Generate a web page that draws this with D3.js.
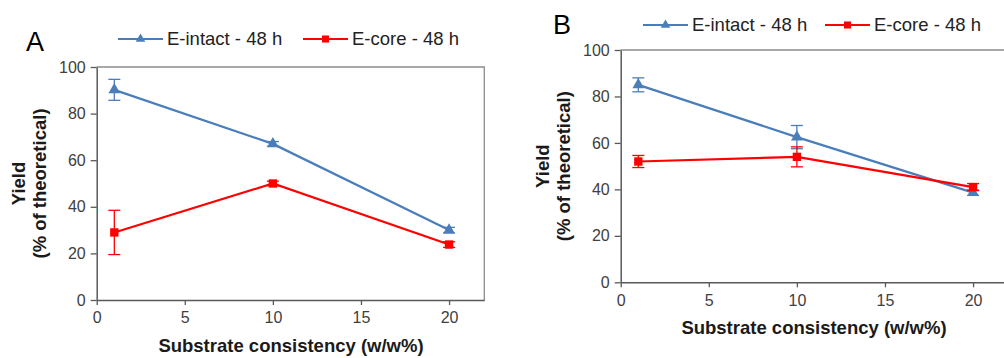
<!DOCTYPE html>
<html lang="en">
<head>
<meta charset="UTF-8" />
<title>Yield vs substrate consistency</title>
<script src="https://cdn.jsdelivr.net/npm/d3@7"></script>
<style>
  body { margin: 0; background: #fff; }
  svg { display: block; font-family: "Liberation Sans", Arial, sans-serif; }
</style>
</head>
<body>
<script>
// consistency (w/w%)
var consistency = [1, 10, 20];
var xTicks = [0, 5, 10, 15, 20];
var yTicks = [0, 20, 40, 60, 80, 100];

// panel A
var intactA = [90.2, 67, 30];
var intactErrA = [4.5, 1, 1.2];
var coreA = [29, 50, 23.8];
var coreErrA = [9.5, 1, 1.2];

// panel B
var intactB = [85, 62.5, 38.6];
var intactErrB = [3, 5, 1.2];
var coreB = [52, 54, 41];
var coreErrB = [2.6, 4.3, 1.5];

var seriesNames = ["E-intact - 48 h", "E-core - 48 h"];
var blue = "#4a7ebb";
var red = "#ff0000";

var svg = d3.select("body").append("svg")
  .attr("width", 1004)
  .attr("height", 358);

function panel(opt) {
  var g = svg.append("g");
  var x = d3.scaleLinear().domain([0, 22]).range([opt.left, opt.left + 387.6]);
  var y = d3.scaleLinear().domain([0, 100]).range([opt.bottom, opt.top]);

  // frame (top + right)
  g.append("path")
    .attr("d", "M" + opt.left + "," + opt.top + "H" + x(22) + "V" + opt.bottom)
    .attr("fill", "none")
    .attr("stroke", "#8c8c8c")
    .attr("stroke-width", 1.3);

  var xAxis = g.append("g")
    .attr("transform", "translate(0," + opt.bottom + ")")
    .call(d3.axisBottom(x).tickValues(xTicks).tickSize(5).tickSizeOuter(0).tickPadding(7));
  var yAxis = g.append("g")
    .attr("transform", "translate(" + opt.left + ",0)")
    .call(d3.axisLeft(y).tickValues(yTicks).tickSize(6).tickSizeOuter(0).tickPadding(5));
  [xAxis, yAxis].forEach(function(a) {
    a.select(".domain").attr("stroke", "#595959").attr("stroke-width", 1.5);
    a.selectAll(".tick line").attr("stroke", "#595959").attr("stroke-width", 1.3);
    a.selectAll("text").attr("font-size", "16px").attr("fill", "#404040")
      .attr("font-family", "Liberation Sans, Arial, sans-serif");
  });

  var line = d3.line()
    .x(function(d) { return x(d[0]); })
    .y(function(d) { return y(d[1]); });

  var series = [
    { vals: opt.intact, err: opt.intactErr, color: blue, shape: d3.symbolTriangle },
    { vals: opt.core, err: opt.coreErr, color: red, shape: d3.symbolSquare }
  ];

  series.forEach(function(s) {
    var pts = consistency.map(function(c, i) { return [c, s.vals[i], s.err[i]]; });
    g.append("path")
      .datum(pts)
      .attr("d", line)
      .attr("fill", "none")
      .attr("stroke", s.color)
      .attr("stroke-width", 2.2);

    var eb = g.append("g").attr("stroke", s.color).attr("stroke-width", 1.3);
    pts.forEach(function(p) {
      var cx = x(p[0]);
      eb.append("line").attr("x1", cx).attr("x2", cx).attr("y1", y(p[1] + p[2])).attr("y2", y(p[1] - p[2]));
      eb.append("line").attr("x1", cx - 6).attr("x2", cx + 6).attr("y1", y(p[1] + p[2])).attr("y2", y(p[1] + p[2]));
      eb.append("line").attr("x1", cx - 6).attr("x2", cx + 6).attr("y1", y(p[1] - p[2])).attr("y2", y(p[1] - p[2]));
    });

    g.selectAll(null)
      .data(pts)
      .enter()
      .append("path")
      .attr("d", d3.symbol().type(s.shape).size(s.shape === d3.symbolSquare ? 70 : 60))
      .attr("transform", function(d) { return "translate(" + x(d[0]) + "," + y(d[1]) + ")"; })
      .attr("fill", s.color);
  });

  // panel letter
  g.append("text")
    .attr("x", opt.letterX).attr("y", opt.letterY)
    .attr("font-size", "27px")
    .attr("fill", "#000")
    .text(opt.letter);

  // legend
  series.forEach(function(s, i) {
    var lx = opt.legendX[i];
    g.append("line")
      .attr("x1", lx).attr("x2", lx + 45)
      .attr("y1", opt.legendY).attr("y2", opt.legendY)
      .attr("stroke", s.color).attr("stroke-width", 2.2);
    g.append("path")
      .attr("d", d3.symbol().type(s.shape).size(s.shape === d3.symbolSquare ? 50 : 40))
      .attr("transform", "translate(" + (lx + 22.5) + "," + opt.legendY + ")")
      .attr("fill", s.color);
    g.append("text")
      .attr("x", lx + 49).attr("y", opt.legendY + 6)
      .attr("font-size", "18.5px")
      .attr("fill", "#222")
      .text(seriesNames[i]);
  });

  // axis titles
  g.append("text")
    .attr("x", (opt.titleX)).attr("y", opt.xTitleY)
    .attr("text-anchor", "middle")
    .attr("font-size", "18.5px")
    .attr("font-weight", "bold")
    .attr("fill", "#1a1a1a")
    .text("Substrate consistency (w/w%)");

  var yc = (opt.top + opt.bottom) / 2;
  var yt = g.append("text")
    .attr("transform", "translate(" + opt.yTitleX + "," + yc + ") rotate(-90)")
    .attr("text-anchor", "middle")
    .attr("font-size", "18.5px")
    .attr("font-weight", "bold")
    .attr("fill", "#1a1a1a");
  yt.append("tspan").attr("x", 0).attr("dy", 0).text("Yield");
  yt.append("tspan").attr("x", 0).attr("dy", 21).text("(% of theoretical)");
}

panel({
  left: 96.7, top: 67, bottom: 300,
  intact: intactA, intactErr: intactErrA, core: coreA, coreErr: coreErrA,
  letter: "A", letterX: 26, letterY: 51,
  legendX: [118, 303], legendY: 39,
  titleX: 291, xTitleY: 352,
  yTitleX: 25
});

panel({
  left: 620.7, top: 50, bottom: 282.3,
  intact: intactB, intactErr: intactErrB, core: coreB, coreErr: coreErrB,
  letter: "B", letterX: 553, letterY: 34,
  legendX: [643, 825], legendY: 25,
  titleX: 814, xTitleY: 334,
  yTitleX: 549
});
</script>
</body>
</html>
